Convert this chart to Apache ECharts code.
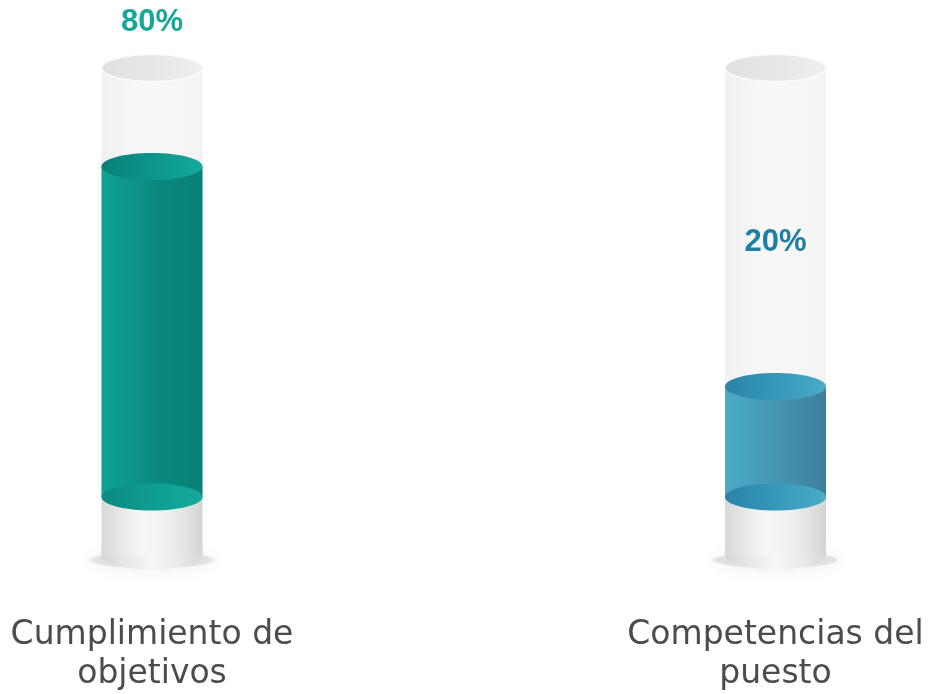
<!DOCTYPE html>
<html>
<head>
<meta charset="utf-8">
<script src="https://cdn.jsdelivr.net/npm/echarts@6/dist/echarts.min.js"></script>
<style>
html,body{margin:0;padding:0;background:#fff;}
#chart{width:933px;height:694px;}
</style>
</head>
<body>
<div id="chart"></div>
<script>
// ---- data ----
const categories = ['Cumplimiento de objetivos', 'Competencias del puesto'];
const values = [80, 20];
const valueLabels = ['80%', '20%'];

// ---- styles ----
const palettes = [
  { body: ['#11a296', '#0c8a80', '#0a7f76'], top: ['#0a8077', '#0d958b', '#12aa9d'], bottom: ['#0b8a81', '#0f9d92', '#13ab9e'], label: '#17a698' },
  { body: ['#4aabc6', '#4596b4', '#3e7e9c'], top: ['#2a84a7', '#3698b9', '#4aabc7'], bottom: ['#2983a7', '#3798b9', '#4aabc7'], label: '#1d7fa4' }
];
const HW = 50.5, RY = 13.5;
const CAP = 25;      // tube cap above the 100% line
const BASE = 37;     // coloured base below the zero line
const PED = 59;      // pedestal height
const LABEL_GAP = 144;

function lg(stops) {
  return new echarts.graphic.LinearGradient(0, 0, 1, 0,
    stops.map((c, i) => ({ offset: i / (stops.length - 1), color: c })));
}

function renderItem(params, api) {
  const idx = api.value(0), v = api.value(1);
  const p0 = api.coord([idx, 0]);
  const pv = api.coord([idx, v]);
  const p100 = api.coord([idx, 100]);
  const cx = p0[0];
  const base = p0[1] + BASE;
  const capY = p100[1] - CAP;
  const pedBottom = base + PED;
  const pal = palettes[idx % palettes.length];
  const yv = pv[1];
  const children = [];
  // shadow
  children.push({ type: 'ellipse', shape: { cx: cx, cy: pedBottom + 4, rx: HW + 12, ry: 8 },
    style: { fill: 'rgba(185,185,185,0.35)', shadowBlur: 16, shadowColor: 'rgba(150,150,150,0.55)' } });
  // pedestal
  children.push({ type: 'ellipse', shape: { cx: cx, cy: pedBottom, rx: HW, ry: RY },
    style: { fill: lg(['#d6d6d6', '#e8e8e8', '#f6f6f6', '#ebebeb', '#d8d8d8']) } });
  children.push({ type: 'rect', shape: { x: cx - HW, y: base, width: HW * 2, height: PED },
    style: { fill: lg(['#d8d8d8', '#e8e8e8', '#f7f7f7', '#f2f2f2', '#e6e6e6', '#d4d4d4']) } });
  // tube
  children.push({ type: 'rect', shape: { x: cx - HW, y: capY, width: HW * 2, height: base - capY },
    style: { fill: lg(['#f1f1f1', '#f5f5f5', '#f8f8f8', '#f6f6f6', '#f3f3f3']) } });
  children.push({ type: 'ellipse', shape: { cx: cx, cy: capY, rx: HW, ry: RY },
    style: { fill: lg(['#e0e0e0', '#e7e7e7', '#efefef']), stroke: '#fbfbfb', lineWidth: 1.5 } });
  // coloured body
  children.push({ type: 'rect', shape: { x: cx - HW, y: yv, width: HW * 2, height: base - yv },
    style: { fill: lg(pal.body) } });
  children.push({ type: 'ellipse', shape: { cx: cx, cy: base, rx: HW, ry: RY },
    style: { fill: lg(pal.bottom) } });
  children.push({ type: 'ellipse', shape: { cx: cx, cy: yv, rx: HW, ry: RY },
    style: { fill: lg(pal.top) } });
  // value label
  children.push({ type: 'text', style: { text: valueLabels[idx], x: cx, y: yv - LABEL_GAP,
    align: 'center', verticalAlign: 'middle', fontFamily: 'Liberation Sans', fontWeight: 'bold',
    fontSize: 31, fill: pal.label } });
  return { type: 'group', children: children };
}

const chart = echarts.init(document.getElementById('chart'));
chart.setOption({
  animation: false,
  grid: { left: 152, right: 157.5, top: 93, bottom: 233 },
  xAxis: {
    type: 'category', data: categories, boundaryGap: false,
    axisLine: { show: false }, axisTick: { show: false }, splitLine: { show: false },
    axisLabel: {
      interval: 0, margin: 156, fontFamily: 'DejaVu Sans', fontSize: 33, color: '#4a4c4e',
      lineHeight: 39, formatter: s => s.replace(/ (\S+)$/, '\n$1')
    }
  },
  yAxis: { type: 'value', min: 0, max: 100, show: false },
  series: [{
    type: 'custom', clip: false,
    data: values.map((v, i) => [i, v]),
    encode: { x: 0, y: 1 },
    renderItem: renderItem
  }]
});
</script>
</body>
</html>
